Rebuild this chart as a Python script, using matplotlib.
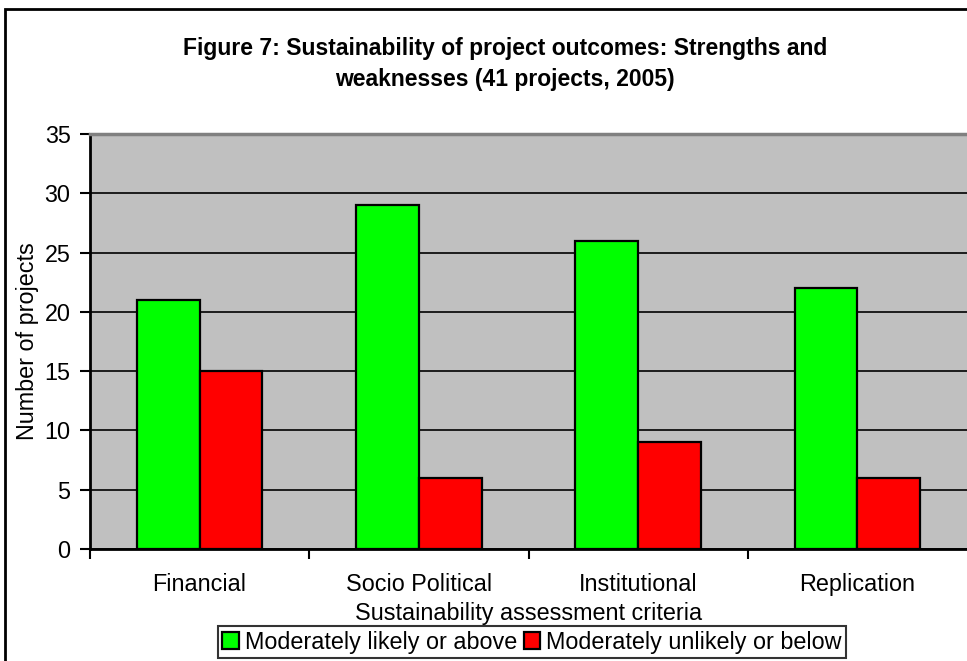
import matplotlib.pyplot as plt
import numpy as np
from matplotlib.patches import Rectangle

plt.rcParams['font.family'] = ['Liberation Sans', 'DejaVu Sans']

# --- Data ---
criteria = ["Financial", "Socio Political", "Institutional", "Replication"]
likely = [21, 29, 26, 22]
unlikely = [15, 6, 9, 6]
series_names = ["Moderately likely or above", "Moderately unlikely or below"]

FS = 16.8

# --- Figure / axes layout (Excel style) ---
fig = plt.figure(figsize=(9.67, 6.61), dpi=100)
ax = fig.add_axes([90 / 967, 1 - 549 / 661, 1 - 90 / 967, (549 - 134) / 661])
ax.set_facecolor("#C0C0C0")

x = np.arange(len(criteria))
w = 1 / 3.5  # gap width 150%
ax.bar(x - w / 2, likely, w, color="#00FF00", edgecolor="black", linewidth=1.6,
       label=series_names[0], zorder=3)
ax.bar(x + w / 2, unlikely, w, color="#FF0000", edgecolor="black", linewidth=1.6,
       label=series_names[1], zorder=3)

ax.set_xlim(-0.5, len(criteria) - 0.5)
ax.set_ylim(0, 35)
ax.set_yticks(range(0, 36, 5))
ax.yaxis.grid(True, color="black", linewidth=1.2, zorder=1)
ax.set_axisbelow(True)

# category boundaries get the ticks, labels sit in between
ax.set_xticks(np.arange(len(criteria)) - 0.5)
ax.set_xticklabels([])
ax.set_xticks(x, minor=True)
ax.set_xticklabels(criteria, minor=True)
ax.tick_params(axis="x", which="major", length=7, width=1.5, direction="out")
ax.tick_params(axis="x", which="minor", length=0, pad=17, labelsize=FS)
ax.tick_params(axis="y", length=7, width=1.5, direction="out", pad=7, labelsize=FS)

for side in ["left", "bottom"]:
    ax.spines[side].set_linewidth(2)
    ax.spines[side].set_color("black")
ax.spines["right"].set_visible(False)
ax.spines["top"].set_color("#808080")
ax.spines["top"].set_linewidth(2.5)

ax.set_ylabel("Number of projects", fontsize=FS)
ax.yaxis.set_label_coords(-0.058, 0.5)
ax.set_xlabel("Sustainability assessment criteria", fontsize=FS)
ax.xaxis.set_label_coords(0.5, -0.127)

fig.text(505 / 967, 1 - 64 / 661,
         "Figure 7: Sustainability of project outcomes: Strengths and\nweaknesses (41 projects, 2005)",
         ha="center", va="center", fontsize=16.5, fontweight="bold", linespacing=1.45)

leg = fig.legend(loc="upper center", bbox_to_anchor=(532 / 967, 1 - 626 / 661), ncol=2,
                 fontsize=FS, frameon=True, fancybox=False, borderpad=0.2,
                 handlelength=0.7, handleheight=0.7, handletextpad=0.25,
                 columnspacing=0.3, borderaxespad=0)
leg.get_frame().set_edgecolor("black")
leg.get_frame().set_linewidth(1.5)

# chart area border
fig.patches.append(Rectangle((4.5 / 967, -0.2), 1.5, 1.2 - 8.5 / 661, transform=fig.transFigure,
                             fill=False, edgecolor="black", linewidth=2, zorder=0))

fig.savefig("out.png", dpi=100)
